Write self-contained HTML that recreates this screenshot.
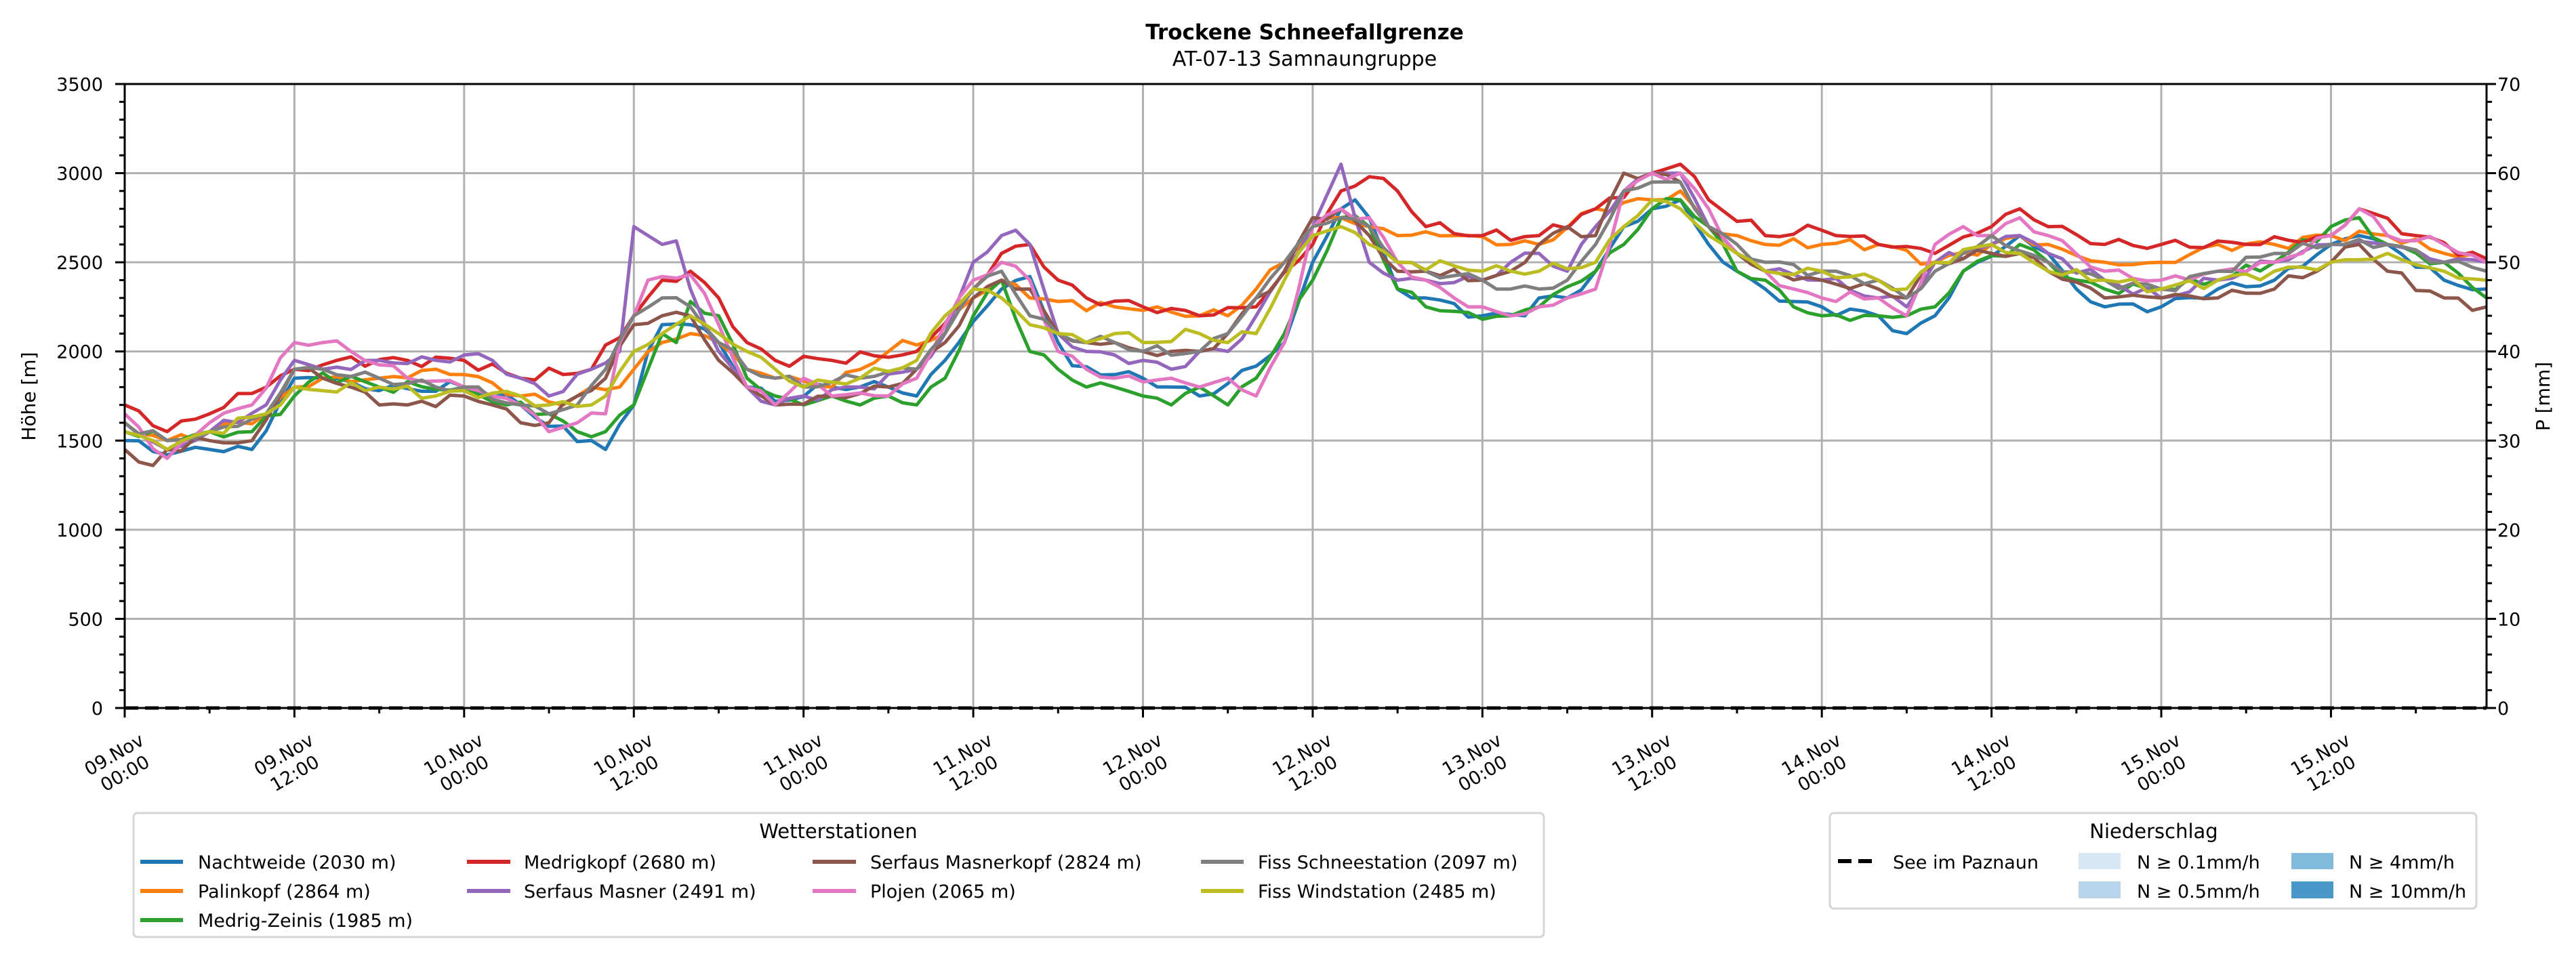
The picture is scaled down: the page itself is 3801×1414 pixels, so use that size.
<!DOCTYPE html>
<html><head><meta charset="utf-8">
<style>
html,body{margin:0;padding:0;background:#fff;}
svg{display:block;font-family:"DejaVu Sans","Liberation Sans",sans-serif;}
</style></head>
<body>
<svg id="s" width="3801" height="1414" viewBox="0 0 3801 1414" xmlns="http://www.w3.org/2000/svg">
<rect width="3801" height="1414" fill="#fff"/>
<text x="1925" y="58" font-size="31" font-weight="bold" text-anchor="middle">Trockene Schneefallgrenze</text>
<text x="1925" y="97" font-size="30" text-anchor="middle">AT-07-13 Samnaungruppe</text>
<g id="grid"></g>
<g id="series" fill="none" stroke-width="5" stroke-linejoin="round"></g>
<line x1="184" y1="1045" x2="3669" y2="1045" stroke="#000" stroke-width="5" stroke-dasharray="20,10"/>
<rect x="184" y="124" width="3485" height="921" fill="none" stroke="#000" stroke-width="3"/>
<g id="ticks" stroke="#000" stroke-width="3"></g>
<g id="labels" font-size="27"></g>
<text transform="translate(52,585) rotate(-90)" font-size="28" text-anchor="middle">Höhe [m]</text>
<text transform="translate(3762,585) rotate(-90)" font-size="28" text-anchor="middle">P [mm]</text>

<!-- Legend 1 -->
<rect x="197" y="1200" width="2081" height="183" rx="6" fill="#fff" stroke="#d5d5d5" stroke-width="3"/>
<text x="1237" y="1237" font-size="29" text-anchor="middle">Wetterstationen</text>
<g font-size="27" stroke-width="6">
<line x1="207" y1="1272" x2="270" y2="1272" stroke="#1f77b4"/><text x="292" y="1282" stroke="none">Nachtweide (2030 m)</text>
<line x1="207" y1="1315" x2="270" y2="1315" stroke="#ff7f0e"/><text x="292" y="1325" stroke="none">Palinkopf (2864 m)</text>
<line x1="207" y1="1358" x2="270" y2="1358" stroke="#2ca02c"/><text x="292" y="1368" stroke="none">Medrig-Zeinis (1985 m)</text>
<line x1="689" y1="1272" x2="753" y2="1272" stroke="#d62728"/><text x="773" y="1282" stroke="none">Medrigkopf (2680 m)</text>
<line x1="689" y1="1315" x2="753" y2="1315" stroke="#9467bd"/><text x="773" y="1325" stroke="none">Serfaus Masner (2491 m)</text>
<line x1="1199" y1="1272" x2="1263" y2="1272" stroke="#8c564b"/><text x="1284" y="1282" stroke="none">Serfaus Masnerkopf (2824 m)</text>
<line x1="1199" y1="1315" x2="1263" y2="1315" stroke="#e377c2"/><text x="1284" y="1325" stroke="none">Plojen (2065 m)</text>
<line x1="1772" y1="1272" x2="1835" y2="1272" stroke="#7f7f7f"/><text x="1856" y="1282" stroke="none">Fiss Schneestation (2097 m)</text>
<line x1="1772" y1="1315" x2="1835" y2="1315" stroke="#bcbd22"/><text x="1856" y="1325" stroke="none">Fiss Windstation (2485 m)</text>
</g>

<!-- Legend 2 -->
<rect x="2700" y="1200" width="954" height="141" rx="6" fill="#fff" stroke="#d5d5d5" stroke-width="3"/>
<text x="3178" y="1237" font-size="29" text-anchor="middle">Niederschlag</text>
<g font-size="27">
<line x1="2712" y1="1271" x2="2768" y2="1271" stroke="#000" stroke-width="6" stroke-dasharray="20,10"/>
<text x="2793" y="1282">See im Paznaun</text>
<rect x="3067" y="1259" width="62" height="24" fill="#d6e6f4"/><text x="3153" y="1282">N ≥ 0.1mm/h</text>
<rect x="3067" y="1301" width="62" height="25" fill="#b7d4ea"/><text x="3153" y="1325">N ≥ 0.5mm/h</text>
<rect x="3381" y="1259" width="62" height="24" fill="#82badb"/><text x="3466" y="1282">N ≥ 4mm/h</text>
<rect x="3381" y="1301" width="62" height="25" fill="#4a98c9"/><text x="3466" y="1325">N ≥ 10mm/h</text>
</g>
</svg>
<script>
(function(){
var NS="http://www.w3.org/2000/svg";
var L=184,R=3669,T=124,B=1045,PH=(R-L)/167,PM=(B-T)/3500;
function X(h){return L+h*PH;} function Y(v){return B-v*PM;}
function el(p,tag,a,txt){var e=document.createElementNS(NS,tag);for(var k in a)e.setAttribute(k,a[k]);if(txt!==undefined)e.textContent=txt;p.appendChild(e);return e;}
var g=document.getElementById('grid'),t=document.getElementById('ticks'),lb=document.getElementById('labels');
for(var h=0;h<=167;h+=12){el(g,'line',{x1:X(h),y1:T,x2:X(h),y2:B,stroke:'#b0b0b0','stroke-width':3});}
for(var v=0;v<=3500;v+=500){el(g,'line',{x1:L,y1:Y(v),x2:R,y2:Y(v),stroke:'#b0b0b0','stroke-width':3});}
for(var h=0;h<=167;h+=6){var mj=h%12==0;el(t,'line',{x1:X(h),y1:B,x2:X(h),y2:B+(mj?14:8)});}
for(var v=0;v<=3500;v+=100){var mj=v%500==0;var ln=mj?14:8;el(t,'line',{x1:L-ln,y1:Y(v),x2:L,y2:Y(v)});el(t,'line',{x1:R,y1:Y(v),x2:R+ln,y2:Y(v)});
 if(mj){el(lb,'text',{x:152,y:Y(v)+10,'text-anchor':'end'},String(v));el(lb,'text',{x:3685,y:Y(v)+10},String(v/50));}}
for(var h=0;h<=156;h+=12){var d=9+Math.floor(h/24);var ds=(d<10?'0':'')+d+'.Nov';var tm=(h%24==0)?'00:00':'12:00';
 var cx=X(h)-8,cy=1127;var gg=el(lb,'g',{transform:'translate('+cx+','+cy+') rotate(-30)'});
 el(gg,'text',{x:0,y:-6,'text-anchor':'middle'},ds);el(gg,'text',{x:0,y:26,'text-anchor':'middle'},tm);}
var S=[
['#1f77b4',"0:1500,3:1420,6:1450,9:1450,12:1850,14:1850,18:1780,24:1800,28:1700,30:1580,33:1500,34:1450,36:1700,37:2000,38:2150,40:2150,42:2050,44:1800,46:1720,50:1800,54:1800,56:1750,58:1950,62:2350,64:2420,66:2050,67:1920,70:1870,72:1850,74:1800,76:1750,78:1820,82:2050,84:2500,86:2800,87:2850,88:2750,90:2350,92:2300,96:2200,99:2200,100:2300,102:2300,104:2450,106:2700,108:2800,110:2850,112:2600,114:2450,116:2350,118:2280,120:2250,124:2200,126:2100,128:2200,130:2450,134:2650,136:2550,138:2350,140:2250,144:2250,148:2350,152:2400,156:2600,158:2650,160:2600,164:2400,167:2350"],
['#ff7f0e',"0:1600,3:1500,6:1550,10:1650,12:1800,14:1850,18:1850,22:1900,24:1870,28:1750,31:1700,33:1800,35:1800,36:1900,38:2050,40:2100,42:2050,44:1900,46:1850,50:1800,54:2000,58:2100,60:2300,62:2400,64:2300,66:2280,70:2250,72:2230,76:2200,78:2200,80:2350,82:2500,84:2700,86:2750,88:2700,90:2650,94:2650,98:2600,100:2600,104:2800,108:2850,110:2900,112:2700,114:2650,116:2600,120:2600,124:2600,128:2500,132:2600,134:2650,136:2600,140:2500,144:2500,148:2600,152:2600,156:2650,160:2650,164:2550,167:2500"],
['#2ca02c',"0:1550,3:1500,6:1550,9:1550,12:1750,14:1880,18:1800,24:1800,27:1700,30:1650,32:1550,34:1550,36:1700,37:1900,38:2100,39:2050,40:2280,42:2200,44:1850,46:1750,48:1700,50:1750,52:1700,54:1750,56:1700,58:1850,60:2200,62:2400,64:2000,66:1900,68:1800,70:1800,72:1750,74:1700,76:1800,78:1700,80:1850,82:2100,84:2400,86:2750,88:2700,90:2350,92:2250,96:2180,98:2200,100:2250,104:2450,106:2600,108:2800,110:2850,112:2700,114:2450,116:2400,118:2250,120:2200,124:2200,126:2200,128:2250,130:2450,134:2600,136:2500,138:2400,140:2350,144:2350,148:2400,152:2500,156:2700,158:2750,160:2600,164:2500,167:2300"],
['#d62728',"0:1700,3:1550,6:1650,12:1900,15:1950,20:1950,24:1950,28:1850,33:1900,36:2200,38:2400,40:2450,42:2300,44:2050,46:1950,50:1950,56:2000,60:2350,62:2550,64:2600,66:2400,68:2300,72:2250,76:2200,80:2250,84:2600,86:2900,88:2980,90:2900,92:2700,96:2650,100:2650,104:2800,108:3000,110:3050,112:2850,116:2650,120:2680,124:2600,128:2550,132:2700,134:2800,136:2700,140:2600,144:2600,150:2600,156:2650,158:2800,162:2650,167:2520"],
['#9467bd',"0:1600,3:1450,6:1550,10:1700,12:1950,14:1900,18:1950,22:1950,24:1980,26:1950,28:1850,30:1750,33:1900,35:2000,36:2700,37:2650,38:2600,39:2620,40:2350,42:2000,44:1800,46:1700,48:1750,52:1800,56:1900,58:2100,60:2500,62:2650,63:2680,64:2600,66:2100,68:2000,70:1980,72:1950,74:1900,76:2000,78:2000,80:2200,82:2450,84:2700,86:3050,87:2750,88:2500,90:2400,92:2400,96:2400,98:2500,100:2550,102:2450,104:2700,106:2900,108:3000,110:3000,112:2700,114:2550,116:2450,120:2400,124:2300,126:2250,128:2500,132:2600,134:2650,136:2550,140:2400,144:2300,148:2400,152:2500,156:2600,160:2600,164:2500,167:2500"],
['#8c564b',"0:1450,1:1380,2:1360,3:1450,6:1500,9:1500,12:1900,14:1850,16:1800,18:1700,20:1700,24:1750,26:1700,28:1600,30:1600,32:1750,34:1850,36:2150,38:2200,40:2200,42:1950,44:1800,46:1700,50:1750,54:1800,56:1900,58:2050,60:2300,62:2400,64:2350,66:2100,68:2050,70:2050,72:2000,74:2000,76:2000,78:2100,80:2300,82:2450,84:2750,86:2800,88:2650,90:2450,92:2450,96:2400,98:2450,100:2600,102:2700,104:2650,106:3000,108:3000,110:2950,112:2700,114:2550,116:2450,120:2400,124:2350,126:2300,128:2500,132:2550,134:2550,136:2450,140:2300,144:2300,148:2300,152:2350,156:2500,158:2600,160:2450,164:2300,167:2250"],
['#e377c2',"0:1650,3:1400,6:1600,9:1700,12:2050,14:2050,16:2000,20:1850,24:1800,26:1750,28:1700,30:1550,32:1600,34:1650,35:2050,36:2200,37:2400,38:2420,40:2430,42:2150,44:1800,46:1700,48:1850,50:1750,54:1750,56:1850,58:2150,60:2400,62:2500,64:2400,66:2000,68:1900,70:1850,74:1850,76:1800,78:1850,80:1750,82:2050,84:2700,86:2800,88:2750,90:2500,92:2400,94:2300,96:2250,98:2200,100:2250,102:2300,104:2350,106:2900,108:3000,110:3000,112:2800,114:2550,116:2450,118:2350,120:2300,124:2300,126:2200,128:2600,130:2700,132:2650,134:2750,136:2650,140:2450,144:2400,148:2450,152:2500,156:2650,158:2800,160:2650,164:2600,167:2500"],
['#7f7f7f',"0:1600,3:1500,6:1550,10:1650,12:1900,14:1900,18:1850,22:1800,24:1800,28:1700,30:1650,32:1700,34:1900,36:2200,38:2300,40:2250,42:2050,44:1900,46:1850,48:1800,52:1850,56:1900,58:2100,60:2350,62:2450,64:2200,66:2100,68:2050,70:2050,72:2000,76:2000,78:2100,80:2300,82:2500,84:2700,86:2750,88:2700,90:2500,92:2450,96:2400,98:2350,100:2350,102:2400,104:2600,106:2900,108:2950,110:2950,112:2700,114:2600,116:2500,120:2450,124:2400,126:2300,128:2450,130:2550,132:2650,136:2500,140:2400,144:2350,148:2450,152:2550,156:2600,160:2600,164:2500,167:2450"],
['#bcbd22',"0:1550,3:1450,6:1550,10:1650,12:1800,14:1780,18:1800,22:1750,24:1780,28:1750,30:1700,33:1700,34:1750,36:2000,38:2100,40:2200,42:2100,44:2000,46:1900,48:1800,52:1850,56:1950,58:2200,60:2350,62:2300,64:2150,66:2100,68:2050,70:2100,72:2050,76:2100,78:2050,80:2100,82:2400,84:2650,86:2700,88:2600,90:2500,94:2480,96:2450,100:2450,104:2500,106:2700,108:2850,110:2800,112:2650,114:2550,116:2450,120:2450,124:2400,126:2350,128:2500,132:2600,134:2550,136:2450,140:2400,144:2350,148:2400,152:2450,156:2500,160:2550,164:2450,167:2400"]
];
var sg=document.getElementById('series');
S.forEach(function(s,si){
 var kp=s[1].split(',').map(function(p){var q=p.split(':');return [+q[0],+q[1]];});
 var pts=[];
 for(var h=0;h<=167;h++){
  var i=0;while(i<kp.length-2&&kp[i+1][0]<h)i++;
  var a=kp[i],b=kp[i+1];var f=(b[0]==a[0])?0:(h-a[0])/(b[0]-a[0]);f=Math.max(0,Math.min(1,f));
  var v=a[1]+(b[1]-a[1])*f;
  var onKey=kp.some(function(k){return k[0]==h;});
  if(!onKey)v+=25*Math.sin(h*1.7+si*2.3)+12*Math.sin(h*3.1+si);
  pts.push(X(h).toFixed(1)+','+Y(v).toFixed(1));
 }
 el(sg,'polyline',{points:pts.join(' '),stroke:s[0]});
});
})();
</script>
</body></html>
